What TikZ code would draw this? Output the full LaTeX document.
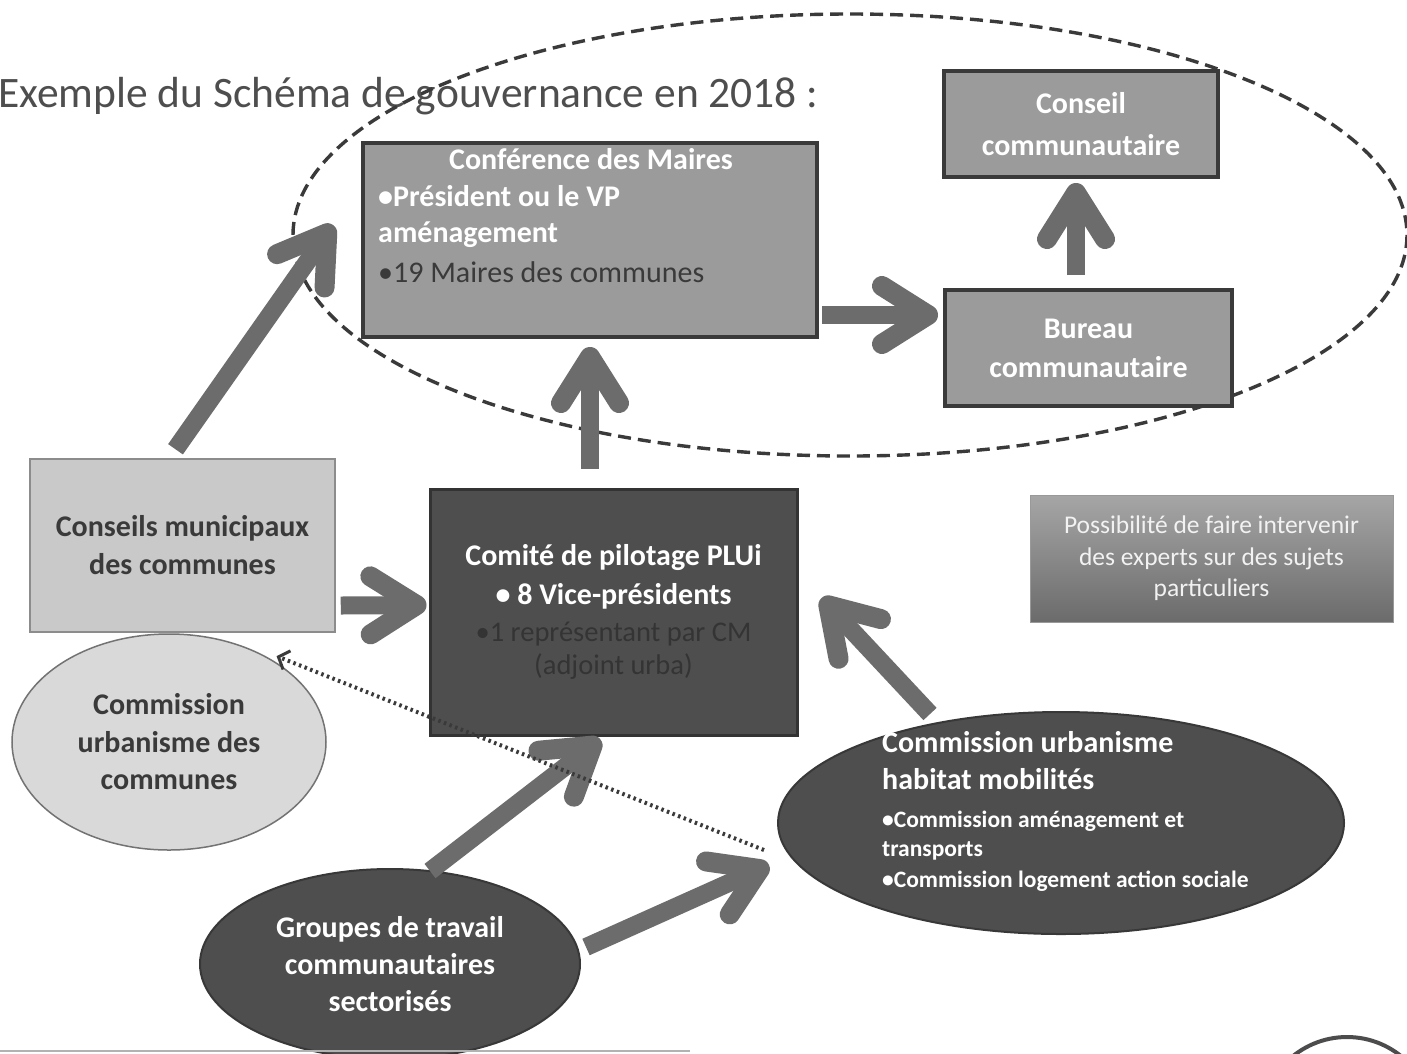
\documentclass[tikz,border=0pt]{standalone}
\usepackage{fontspec}
\setmainfont{Carlito}
\usetikzlibrary{arrows.meta,calc,shapes.geometric}
\definecolor{boxgray}{HTML}{9B9B9B}
\definecolor{edgedark}{HTML}{3A3A3A}
\definecolor{lightbox}{HTML}{C9C9C9}
\definecolor{darkfill}{HTML}{4E4E4E}
\definecolor{arrowgray}{HTML}{6C6C6C}
\definecolor{titlegray}{HTML}{4E4E4E}
\definecolor{darktext}{HTML}{3A3A3A}
\definecolor{dimtext}{HTML}{343434}
\tikzset{
  midbox/.style={draw=edgedark, line width=4, fill=boxgray, rectangle, inner sep=0},
  whitetxt/.style={text=white, font=\bfseries\fontsize{30}{42}\selectfont, align=center},
  bigarrow/.style={draw=arrowgray, line width=18, -{Straight Barb[length=46, width=58, line width=20, round]}},
  linetxt/.style={inner sep=0, anchor=base west},
  ctrtxt/.style={inner sep=0, anchor=base},
  boldw/.style={text=white, font=\bfseries\fontsize{30}{40}\selectfont},
  smallw/.style={text=white, font=\bfseries\fontsize{23.5}{30}\selectfont},
}
\begin{document}
\begin{tikzpicture}[x=1pt,y=-1pt]
\useasboundingbox (0,0) rectangle (1407,1053);
\fill[white] (0,0) rectangle (1407,1053);

% title
\node[anchor=base west, inner sep=0, text=titlegray, font=\fontsize{43.5}{50}\selectfont] (title) at (-2,107) {Exemple du Schéma de gouvernance en 2018 :};

% dashed ellipse
\draw[edgedark, line width=3.4, dash pattern=on 13 off 7] (850,235) ellipse [x radius=557, y radius=221];

% boxes
\node[midbox, minimum width=454, minimum height=194] (conf) at (590,240) {};
\node[ctrtxt, boldw] (conft) at ($(conf.north)+(1,28)$) {Conférence des Maires};
\node[linetxt, boldw] (confa) at ($(conf.north west)+(17,65)$) {•Président ou le VP};
\node[linetxt, boldw] (confb) at ($(conf.north west)+(17,101)$) {aménagement};
\node[linetxt, text=darktext, font=\fontsize{30}{40}\selectfont] (confc) at ($(conf.north west)+(17,141)$) {•19 Maires des communes};

\node[midbox, minimum width=274, minimum height=106, whitetxt] (conseil) at (1081,124) {Conseil\\communautaire};
\node[midbox, minimum width=287, minimum height=116, whitetxt, font=\bfseries\fontsize{30}{39}\selectfont] (bureau) at (1088.5,348) {Bureau\\communautaire};

\node[draw=black!45, line width=1.5, fill=lightbox, minimum width=305, minimum height=173, inner sep=0, text=darktext, font=\bfseries\fontsize{30}{38}\selectfont, align=center] (cm) at (182.5,545.5) {Conseils municipaux\\des communes};

\node[draw=black!80, line width=3, fill=darkfill, minimum width=367, minimum height=246, inner sep=0] (comite) at (613.5,612) {};
\node[ctrtxt, boldw] (comitea) at ($(comite.north)+(0,78)$) {Comité de pilotage PLUi};
\node[ctrtxt, boldw] (comiteb) at ($(comite.north)+(0,117)$) {• 8 Vice-présidents};
\node[ctrtxt, text=dimtext, font=\fontsize{28.5}{35}\selectfont] (comitec) at ($(comite.north)+(0,154)$) {•1 représentant par CM};
\node[ctrtxt, text=dimtext, font=\fontsize{28.5}{35}\selectfont] (comited) at ($(comite.north)+(0,187)$) {(adjoint urba)};

\node[top color=black!35, bottom color=black!58, draw=black!40, line width=1, minimum width=363, minimum height=127, inner sep=0, text=black!5, font=\fontsize{25.5}{31.5}\selectfont, align=center] (poss) at (1211.5,558.5) {Possibilité de faire intervenir\\des experts sur des sujets\\particuliers};

\node[ellipse, draw=black!55, line width=1.5, fill=black!15, minimum width=314, minimum height=216, inner sep=0, text=darktext, font=\bfseries\fontsize{30}{37.5}\selectfont, align=center] (curb) at (169,742) {Commission\\urbanisme des\\communes};

\node[ellipse, draw=black!78, line width=2, fill=darkfill, minimum width=566, minimum height=222, inner sep=0] (cuhm) at (1061,823) {};
\node[linetxt, boldw] (cuhma) at (882,752) {Commission urbanisme};
\node[linetxt, boldw] (cuhmb) at (882,789) {habitat mobilités};
\node[linetxt, smallw] (cuhmc) at (882,827) {•Commission aménagement et};
\node[linetxt, smallw] (cuhmd) at (882,856) {transports};
\node[linetxt, smallw] (cuhme) at (882,887) {•Commission logement action sociale};

\node[ellipse, draw=black!78, line width=2, fill=darkfill, minimum width=380, minimum height=190, inner sep=0, whitetxt, font=\bfseries\fontsize{30}{37}\selectfont] (grp) at (390,964) {Groupes de travail\\communautaires\\sectorisés};

% thick arrows
\draw[bigarrow] ($(bureau.north)+(-12.5,-13)$) -- ($(conseil.south)+(-5,4)$);
\draw[bigarrow] ($(conf.east)+(3,75)$) -- ($(bureau.west)+(-5,-33)$);
\draw[bigarrow] ($(comite.north)+(-23.5,-19)$) -- ($(conf.south)+(0,8)$);
\draw[bigarrow] ($(cm.north)+(-7,-9)$) -- ($(conf.west)+(-28,-15)$);
\draw[bigarrow] ($(cm.east)+(5,60)$) -- ($(comite.west)+(-2,-7)$);
\draw[bigarrow] ($(grp.north)+(40,3)$) -- ($(comite.south)+(-13,3)$);
\draw[bigarrow] ($(grp.east)+(5,-17)$) -- ($(cuhm.west)+(-8,42)$);
\draw[bigarrow] ($(cuhm.north)+(-131,3)$) -- ($(comite.east)+(23,-14)$);

% dotted connector
\draw[draw=edgedark, line width=4, dash pattern=on 2.5 off 3.5, -{Straight Barb[length=9, width=20, line width=3]}] ($(cuhm.west)+(-13,27)$) -- ($(curb.north east)+(-4,-9)$);

% bottom decorations
\draw[black!30, line width=2] (0,1051) -- (690,1051);
\draw[black!70, line width=4] (1347,1123) circle [radius=86];
\end{tikzpicture}
\end{document}
